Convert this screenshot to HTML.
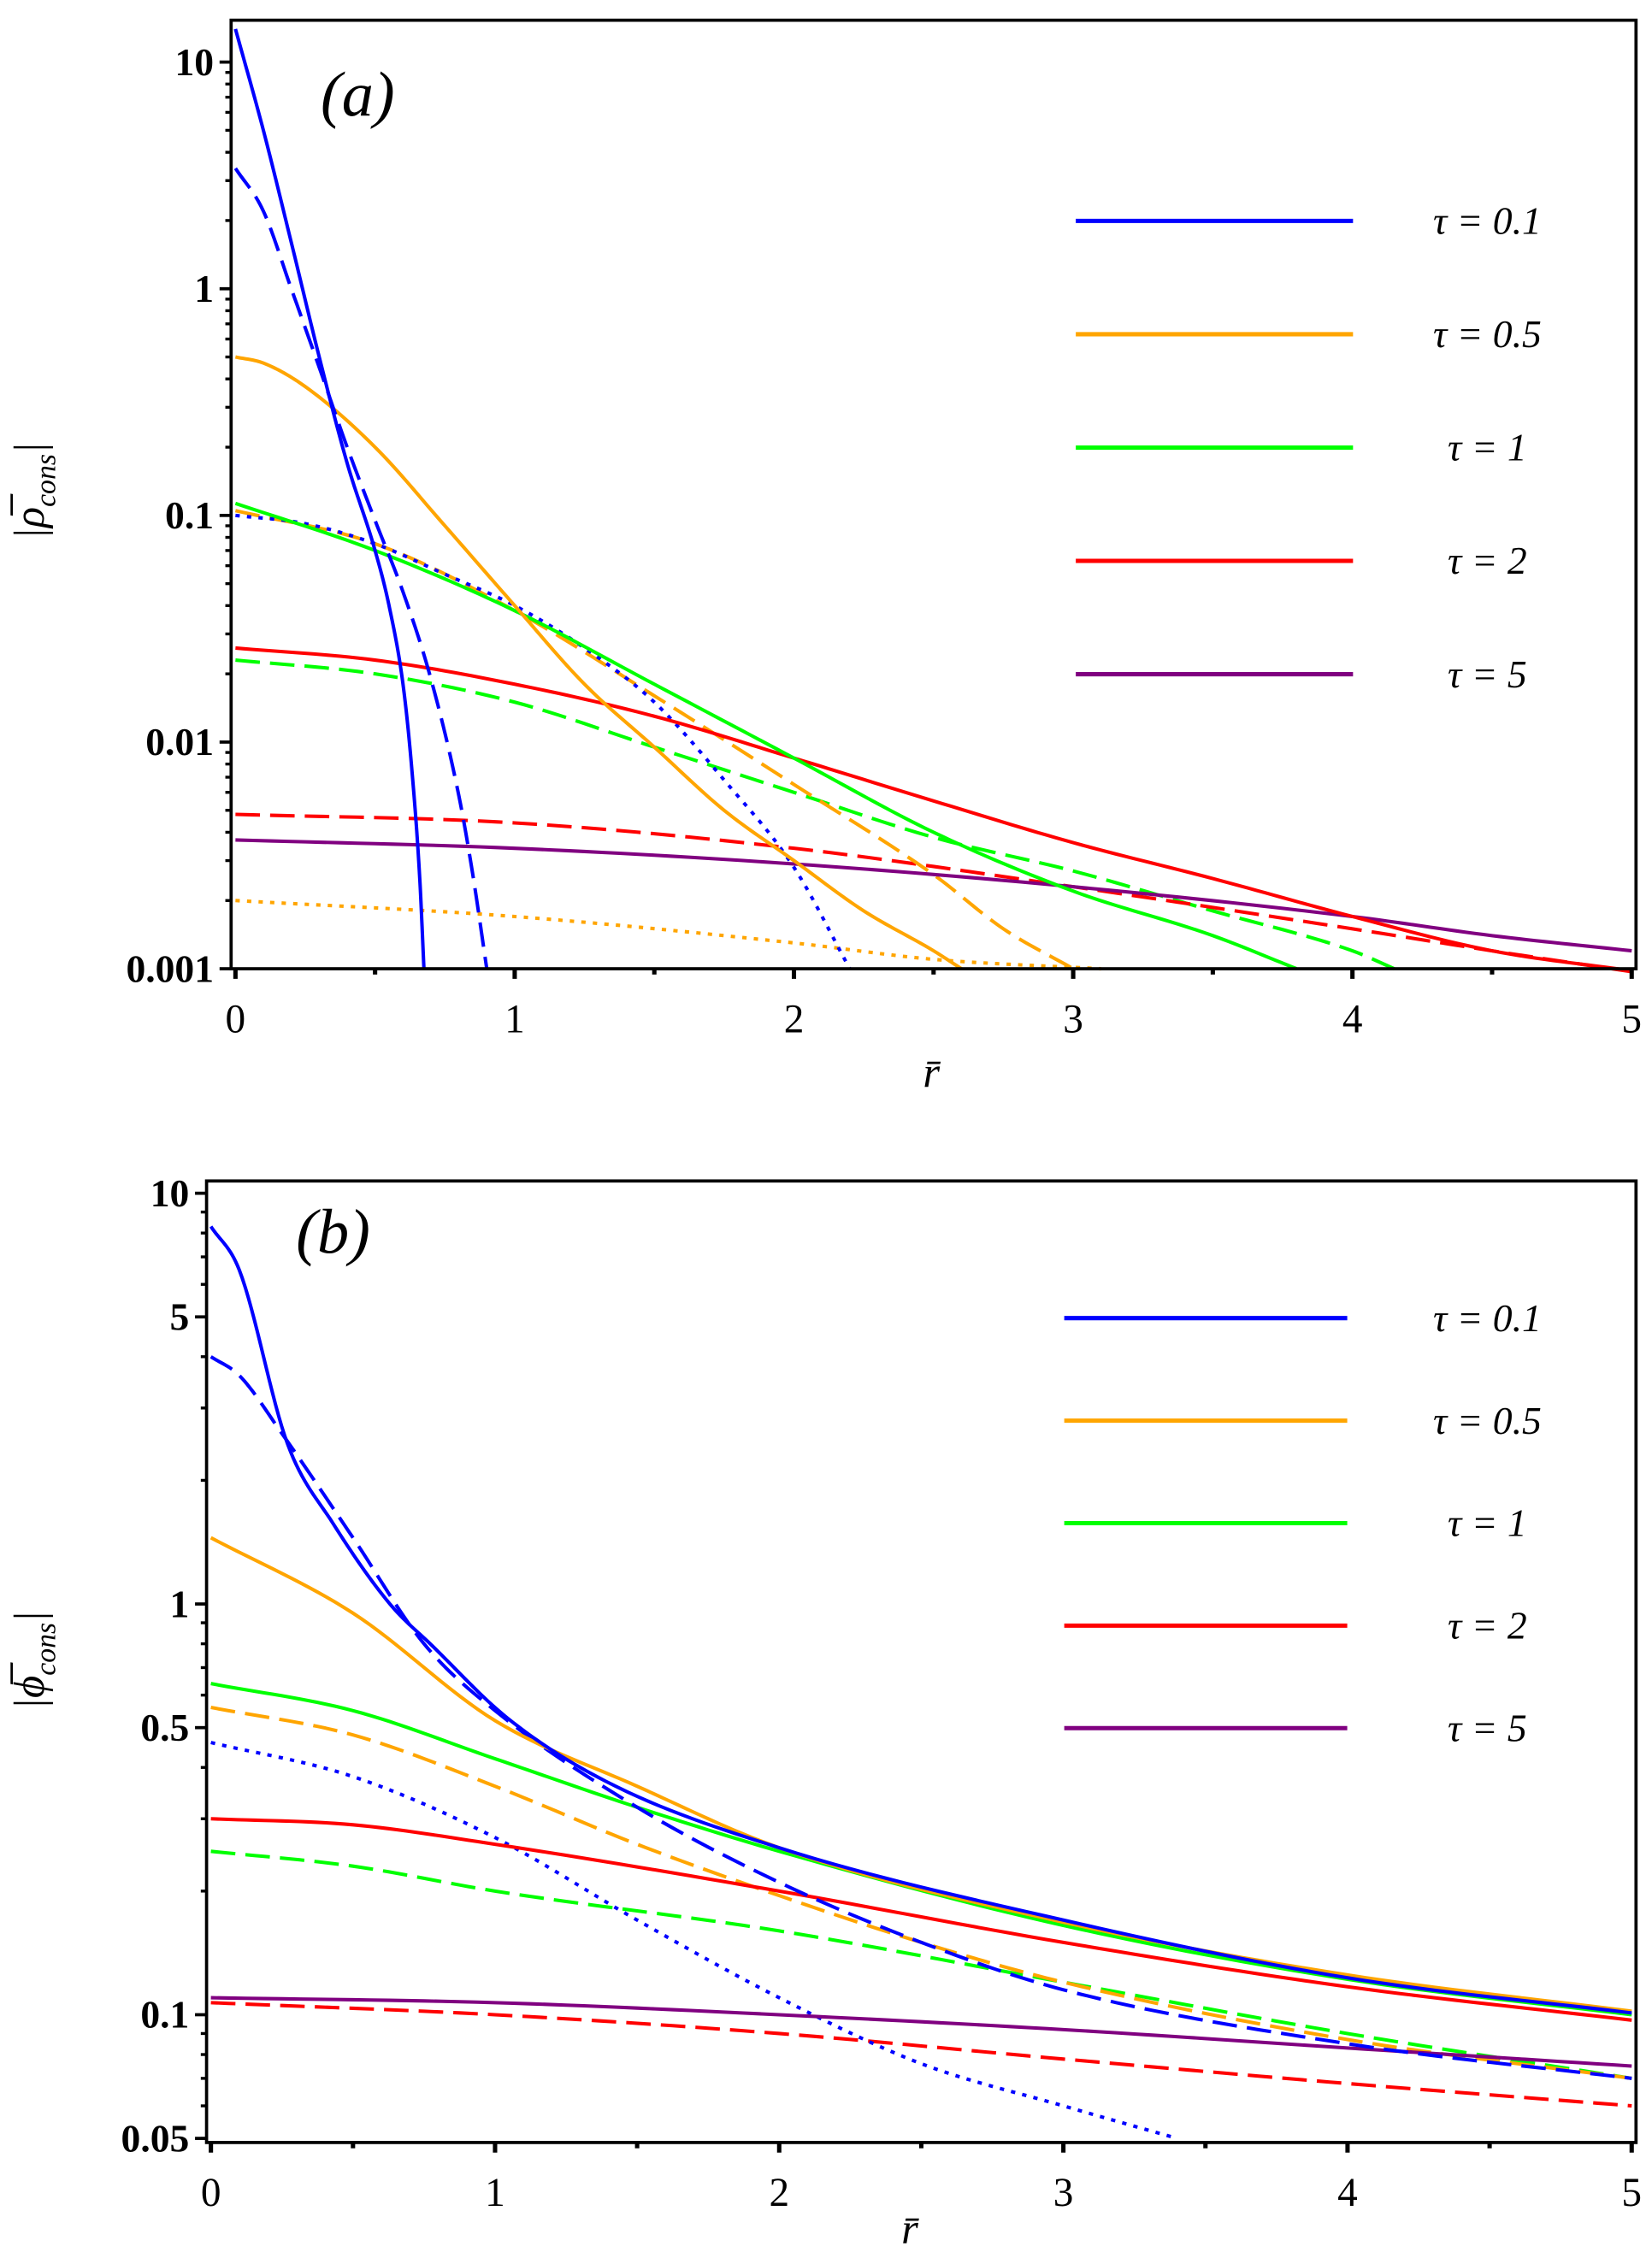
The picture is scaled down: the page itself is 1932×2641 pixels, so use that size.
<!DOCTYPE html>
<html><head><meta charset="utf-8"><style>
html,body{margin:0;padding:0;background:#fff;}
svg{display:block;}
text{font-family:"Liberation Serif","DejaVu Serif",serif;fill:#000;}
</style></head><body>
<svg id="fig" width="1932" height="2641" viewBox="0 0 1144 1564" xmlns="http://www.w3.org/2000/svg">
<g id="pa"></g>
<g id="pb"></g>
</svg>
<script>
// ---- Panel (a) data ----
const aTicksX = [0,1,2,3,4,5];
const aTicksY = [10,1,0.1,0.01,0.001];
const aTickLabelsY = ["10","1","0.1","0.01","0.001"];
const aBlueSolidR = [0,0.1,0.2,0.3,0.4,0.5,0.55,0.6,0.63,0.66,0.675];
const aBlueSolidV = [14,5,1.6,0.5,0.17,0.07,0.04,0.018,0.008,0.0025,0.001];
const aBlueDashR = [0,0.1,0.2,0.3,0.4,0.5,0.6,0.7,0.8,0.85,0.9];
const aBlueDashV = [3.4,2.2,1.0,0.45,0.2,0.095,0.046,0.019,0.0058,0.0026,0.001];
const aBlueDotR = [0,0.25,0.5,0.75,1,1.25,1.5,1.75,2,2.2];
const aBlueDotV = [0.1,0.092,0.075,0.055,0.04,0.026,0.015,0.0068,0.0028,0.001];
const aOrSolidR = [0,0.1,0.25,0.5,0.75,1,1.25,1.5,1.75,2,2.25,2.5,2.6];
const aOrSolidV = [0.5,0.47,0.37,0.2,0.09,0.04,0.018,0.0095,0.005,0.003,0.0018,0.0012,0.001];
const aOrDashR = [0,0.5,1,1.5,2,2.5,2.75,3];
const aOrDashV = [0.105,0.075,0.038,0.016,0.0065,0.0026,0.0015,0.001];
const aOrDotR = [0,1,2,2.5,3.1];
const aOrDotV = [0.002,0.0017,0.0013,0.0011,0.001];
const aGrSolidR = [0,0.5,1,1.5,2,2.5,3,3.5,3.8];
const aGrSolidV = [0.113,0.07,0.038,0.018,0.0085,0.004,0.0022,0.0014,0.001];
const aGrDashR = [0,0.5,1,1.5,2,2.5,3,3.5,4,4.15];
const aGrDashV = [0.023,0.02,0.015,0.0095,0.006,0.0038,0.0027,0.0018,0.0012,0.001];
const aRdSolidR = [0,0.5,1,1.5,2,2.5,3,3.5,4,4.5,5];
const aRdSolidV = [0.026,0.023,0.018,0.013,0.0085,0.0055,0.0036,0.0025,0.0017,0.0012,0.00098];
const aRdDashR = [0,1,2,3,4,4.5,5];
const aRdDashV = [0.0048,0.0044,0.0034,0.0023,0.0015,0.0012,0.00097];
const aPuSolidR = [0,1,2,3,4,4.5,5];
const aPuSolidV = [0.0037,0.0034,0.0029,0.0023,0.0017,0.0014,0.0012];
// ---- Panel (b) data ----
const bTicksX = [0,1,2,3,4,5];
const bTicksY = [10,5,1,0.5,0.1,0.05];
const bTickLabelsY = ["10","5","1","0.5","0.1","0.05"];
const bBlueSolidR = [0,0.1,0.27,0.43,0.63,0.78,1.04,1.39,2,3,4,5];
const bBlueSolidV = [8.3,6.5,2.45,1.57,1.0,0.79,0.53,0.37,0.255,0.17,0.123,0.101];
const bBlueDashR = [0,0.1,0.25,0.5,0.75,1,1.5,2,2.5,3,4,5];
const bBlueDashV = [4,3.6,2.6,1.45,0.8,0.55,0.32,0.21,0.15,0.115,0.085,0.07];
const bBlueDotR = [0,0.5,1,1.5,2,2.5,3,3.4];
const bBlueDotV = [0.46,0.38,0.27,0.17,0.11,0.076,0.06,0.05];
const bOrSolidR = [0,0.5,1,1.5,2,3,4,5];
const bOrSolidV = [1.45,0.95,0.52,0.36,0.255,0.168,0.125,0.102];
const bOrDashR = [0,0.5,1,1.5,2,2.5,3,4,5];
const bOrDashV = [0.56,0.48,0.36,0.26,0.195,0.15,0.12,0.087,0.07];
const bGrSolidR = [0,0.5,1,1.5,2,3,4,5];
const bGrSolidV = [0.64,0.55,0.42,0.32,0.25,0.165,0.122,0.1];
const bGrDashR = [0,0.5,1,2,3,4,5];
const bGrDashV = [0.25,0.23,0.2,0.16,0.12,0.09,0.07];
const bRdSolidR = [0,0.5,1,2,3,4,5];
const bRdSolidV = [0.3,0.29,0.26,0.2,0.15,0.117,0.097];
const bRdDashR = [0,1,2,3,4,5];
const bRdDashV = [0.107,0.1,0.09,0.078,0.068,0.06];
const bPuSolidR = [0,1,2,3,4,5];
const bPuSolidV = [0.11,0.107,0.1,0.092,0.083,0.075];
const legendLabels = ["τ = 0.1","τ = 0.5","τ = 1","τ = 2","τ = 5"];
const legendColors = ["#0000ff","#ffa500","#00ff00","#ff0000","#800080"];

const NS="http://www.w3.org/2000/svg";
function mk(tag,attrs,parent){const e=document.createElementNS(NS,tag);for(const k in attrs)e.setAttribute(k,attrs[k]);parent.appendChild(e);return e;}

function monotone(R,L){
  const n=R.length,d=[],m=[];
  for(let i=0;i<n-1;i++)d.push((L[i+1]-L[i])/(R[i+1]-R[i]));
  m[0]=d[0];m[n-1]=d[n-2];
  for(let i=1;i<n-1;i++){m[i]=(d[i-1]*d[i]<=0)?0:(d[i-1]+d[i])/2;}
  for(let i=0;i<n-1;i++){if(d[i]===0){m[i]=0;m[i+1]=0;continue;}
    const a=m[i]/d[i],b=m[i+1]/d[i],s=a*a+b*b;
    if(s>9){const t=3/Math.sqrt(s);m[i]=t*a*d[i];m[i+1]=t*b*d[i];}}
  return m;
}

function panel(g,cfg){
  const X=r=>cfg.x0+r*cfg.dx;
  const Y=v=>cfg.yRef-(Math.log10(v)-cfg.logRef)*cfg.dec;
  cfg.series.forEach(s=>{
    const R=s[0],V=s[1],L=V.map(v=>Math.log10(v));
    const m=monotone(R,L);let d="";
    for(let i=0;i<R.length-1;i++){
      const h=R[i+1]-R[i];
      for(let k=(i?1:0);k<=16;k++){const t=k/16;
        const h00=2*t*t*t-3*t*t+1,h10=t*t*t-2*t*t+t,h01=-2*t*t*t+3*t*t,h11=t*t*t-t*t;
        const ly=h00*L[i]+h10*h*m[i]+h01*L[i+1]+h11*h*m[i+1];
        const rx=R[i]+t*h;
        d+=(d?"L":"M")+X(rx).toFixed(2)+","+Y(Math.pow(10,ly)).toFixed(2);}
    }
    const a={d:d,fill:"none",stroke:s[2],"stroke-width":2.4};
    if(s[3]==="dash")a["stroke-dasharray"]="17 7";
    if(s[3]==="dot")a["stroke-dasharray"]="3 5";
    const p=mk("path",a,g);
    
    
  });
  const fr=mk("rect",{x:cfg.L,y:cfg.T,width:cfg.R-cfg.L,height:cfg.B-cfg.T,fill:"none",stroke:"#000","stroke-width":2.2},g);
  
  
  cfg.ticksX.forEach(t=>{
    const tk=mk("line",{x1:X(t),x2:X(t),y1:cfg.B,y2:cfg.B+7,stroke:"#000","stroke-width":3},g);
    
    
    const lb=mk("text",{x:X(t),y:cfg.B+44,"font-size":28,"text-anchor":"middle"},g);lb.textContent=String(t);
    
    
    if(t<5){const mm=mk("line",{x1:X(t+0.5),x2:X(t+0.5),y1:cfg.B,y2:cfg.B+4,stroke:"#000","stroke-width":3},g);
      
      }
  });
  cfg.ticksY.forEach((t,i)=>{
    const y=Y(t);
    const tk=mk("line",{x1:cfg.L-8,x2:cfg.L,y1:y,y2:y,stroke:"#000","stroke-width":2.2},g);
    
    
    const lb=mk("text",{x:cfg.L-12,y:y+9,"font-size":27,"font-weight":"bold","text-anchor":"end"},g);lb.textContent=cfg.labelsY[i];
    
    
  });
  for(let e=cfg.minDec;e<cfg.maxDec;e++){for(let k=2;k<=9;k++){const v=k*Math.pow(10,e);const y=Y(v);if(y<cfg.T||y>cfg.B)continue;
    const mt=mk("line",{x1:cfg.L-4,x2:cfg.L,y1:y,y2:y,stroke:"#000","stroke-width":2},g);
    
    }}
  legendLabels.forEach((l,i)=>{
    const y=cfg.legY0+i*cfg.legDy;
    const ln=mk("line",{x1:cfg.legX1,x2:cfg.legX2,y1:y,y2:y,stroke:legendColors[i],"stroke-width":3},g);
    
    
    const tx=mk("text",{x:1030,y:y+9,"font-size":27,"font-style":"italic","text-anchor":"middle"},g);tx.textContent=l;
    
    
  });
  const pl=mk("text",{x:cfg.plX,y:cfg.plY,"font-size":44,"font-style":"italic"},g);pl.textContent=cfg.panelLabel;
  
  
  const xt=mk("text",{x:cfg.xtX,y:cfg.B+cfg.xtDy,"font-size":30,"font-style":"italic","text-anchor":"middle"},g);xt.textContent="r̄";
  
  
  const yt=mk("text",{x:0,y:0,"font-size":30,"font-style":"italic","text-anchor":"middle",transform:"translate("+cfg.ytX+","+cfg.ytY+") rotate(-90)"},g);
  yt.innerHTML="|"+cfg.sym+"\u0305<tspan font-size='20' dy='8'>cons</tspan><tspan dy='-8'>|</tspan>";
  
  
}

panel(document.getElementById("pa"),{
  x0:163,dx:193.4,yRef:671,logRef:-3,dec:157,L:160,R:1133,T:14,B:671,minDec:-3,maxDec:2,
  ticksX:aTicksX,ticksY:aTicksY,labelsY:aTickLabelsY,legX1:745,legX2:937,legY0:153,legDy:78.5,
  plX:222,plY:80,panelLabel:"(a)",xtX:645,xtDy:82,ytX:30,ytY:340,sym:"ρ",
  series:[
    [aGrDashR,aGrDashV,"#00ff00","dash","green-dashed-curve"],
    [aRdDashR,aRdDashV,"#ff0000","dash","red-dashed-curve"],
    [aOrDotR,aOrDotV,"#ffa500","dot","orange-dotted-curve"],
    [aOrDashR,aOrDashV,"#ffa500","dash","orange-dashed-curve"],
    [aBlueDotR,aBlueDotV,"#0000ff","dot","blue-dotted-curve"],
    [aPuSolidR,aPuSolidV,"#800080","solid","purple-solid-curve"],
    [aRdSolidR,aRdSolidV,"#ff0000","solid","red-solid-curve"],
    [aGrSolidR,aGrSolidV,"#00ff00","solid","green-solid-curve"],
    [aOrSolidR,aOrSolidV,"#ffa500","solid","orange-solid-curve"],
    [aBlueDashR,aBlueDashV,"#0000ff","dash","blue-dashed-curve"],
    [aBlueSolidR,aBlueSolidV,"#0000ff","solid","blue-solid-curve"]
  ]});
panel(document.getElementById("pb"),{
  x0:146,dx:196.8,yRef:1111,logRef:0,dec:284.5,L:143,R:1133,T:818,B:1484,minDec:-2,maxDec:2,
  ticksX:bTicksX,ticksY:bTicksY,labelsY:bTickLabelsY,legX1:737,legX2:933,legY0:913,legDy:71,
  plX:205,plY:868,panelLabel:"(b)",xtX:630,xtDy:70,ytX:30,ytY:1150,sym:"ϕ",
  series:[
    [bGrDashR,bGrDashV,"#00ff00","dash","green-dashed-curve"],
    [bRdDashR,bRdDashV,"#ff0000","dash","red-dashed-curve"],
    [bOrDashR,bOrDashV,"#ffa500","dash","orange-dashed-curve"],
    [bBlueDotR,bBlueDotV,"#0000ff","dot","blue-dotted-curve"],
    [bPuSolidR,bPuSolidV,"#800080","solid","purple-solid-curve"],
    [bRdSolidR,bRdSolidV,"#ff0000","solid","red-solid-curve"],
    [bGrSolidR,bGrSolidV,"#00ff00","solid","green-solid-curve"],
    [bBlueDashR,bBlueDashV,"#0000ff","dash","blue-dashed-curve"],
    [bOrSolidR,bOrSolidV,"#ffa500","solid","orange-solid-curve"],
    [bBlueSolidR,bBlueSolidV,"#0000ff","solid","blue-solid-curve"]
  ]});
</script>
</body></html>
